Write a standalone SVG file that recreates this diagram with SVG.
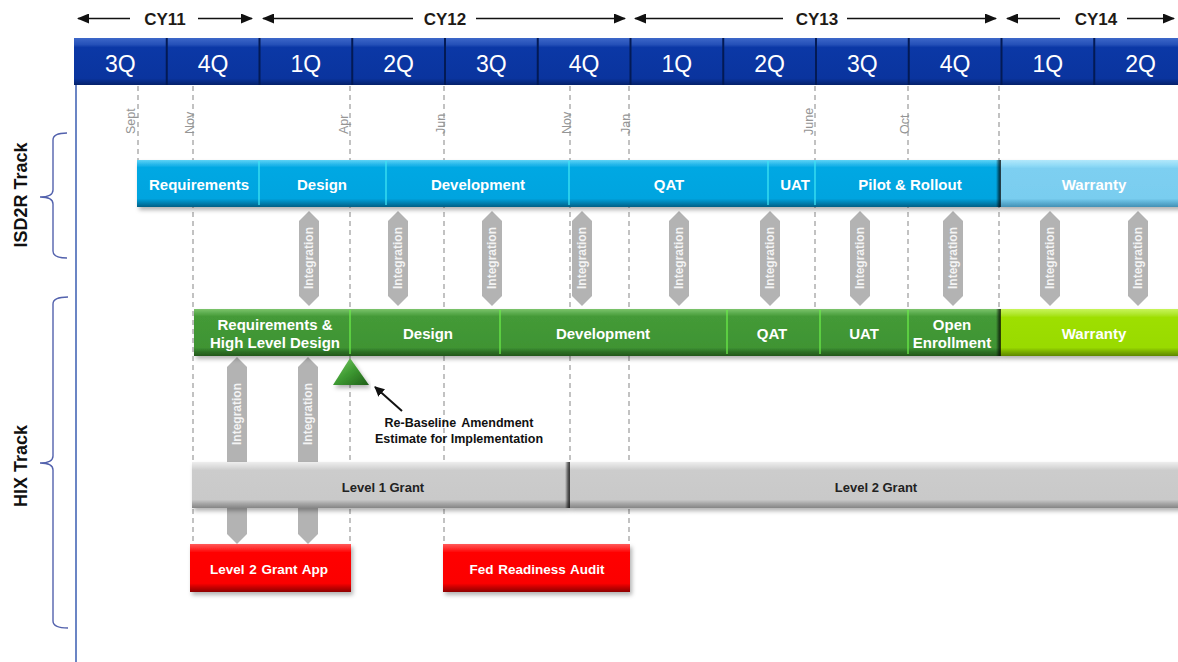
<svg xmlns="http://www.w3.org/2000/svg" width="1178" height="662" viewBox="0 0 1178 662">
<defs>
<linearGradient id="gHdr" x1="0" y1="0" x2="0" y2="1">
<stop offset="0" stop-color="#3d67c9"/><stop offset="0.14" stop-color="#2450b8"/><stop offset="0.2" stop-color="#0b38a6"/><stop offset="0.86" stop-color="#0a349e"/><stop offset="1" stop-color="#05216a"/>
</linearGradient>
<linearGradient id="gBlue" x1="0" y1="0" x2="0" y2="1">
<stop offset="0" stop-color="#5fd3f6"/><stop offset="0.1" stop-color="#22b6ea"/><stop offset="0.16" stop-color="#06a8e3"/><stop offset="0.82" stop-color="#05a4df"/><stop offset="0.9" stop-color="#0486b8"/><stop offset="1" stop-color="#035f85"/>
</linearGradient>
<linearGradient id="gLtBlue" x1="0" y1="0" x2="0" y2="1">
<stop offset="0" stop-color="#b2e8fb"/><stop offset="0.12" stop-color="#8fdaf6"/><stop offset="0.18" stop-color="#7dcff1"/><stop offset="0.82" stop-color="#79cdef"/><stop offset="0.9" stop-color="#5fb2d6"/><stop offset="1" stop-color="#4390b4"/>
</linearGradient>
<linearGradient id="gGreen" x1="0" y1="0" x2="0" y2="1">
<stop offset="0" stop-color="#7cc46c"/><stop offset="0.1" stop-color="#58a94a"/><stop offset="0.16" stop-color="#449a37"/><stop offset="0.82" stop-color="#3f9433"/><stop offset="0.9" stop-color="#2f7426"/><stop offset="1" stop-color="#22561b"/>
</linearGradient>
<linearGradient id="gLime" x1="0" y1="0" x2="0" y2="1">
<stop offset="0" stop-color="#c8f55a"/><stop offset="0.12" stop-color="#ade627"/><stop offset="0.18" stop-color="#9edf05"/><stop offset="0.82" stop-color="#99da00"/><stop offset="0.9" stop-color="#7db300"/><stop offset="1" stop-color="#5d8600"/>
</linearGradient>
<linearGradient id="gGray" x1="0" y1="0" x2="0" y2="1">
<stop offset="0" stop-color="#eeeeee"/><stop offset="0.12" stop-color="#d8d8d8"/><stop offset="0.18" stop-color="#cccccc"/><stop offset="0.82" stop-color="#c9c9c9"/><stop offset="0.9" stop-color="#a8a8a8"/><stop offset="1" stop-color="#858585"/>
</linearGradient>
<linearGradient id="gRed" x1="0" y1="0" x2="0" y2="1">
<stop offset="0" stop-color="#ff5a5a"/><stop offset="0.12" stop-color="#ff2020"/><stop offset="0.18" stop-color="#ff0000"/><stop offset="0.82" stop-color="#fb0000"/><stop offset="0.9" stop-color="#c80000"/><stop offset="1" stop-color="#8e0000"/>
</linearGradient>
<linearGradient id="gTri" x1="0" y1="0" x2="1" y2="1">
<stop offset="0" stop-color="#7fcf6a"/><stop offset="0.5" stop-color="#3e9a32"/><stop offset="1" stop-color="#1f5e19"/>
</linearGradient>
<linearGradient id="gEdge" x1="0" y1="0" x2="1" y2="0">
<stop offset="0" stop-color="#000" stop-opacity="0"/><stop offset="0.6" stop-color="#000" stop-opacity="0.55"/><stop offset="1" stop-color="#000" stop-opacity="0.75"/>
</linearGradient>
<filter id="sh" x="-5%" y="-20%" width="110%" height="150%">
<feDropShadow dx="2" dy="3" stdDeviation="2" flood-color="#000" flood-opacity="0.3"/>
</filter>
<marker id="ah" viewBox="0 0 10 10" refX="9" refY="5" markerWidth="10" markerHeight="10" markerUnits="userSpaceOnUse" orient="auto">
<path d="M0,0 L10,5 L0,10 Z" fill="#111"/>
</marker>
<marker id="yh" viewBox="0 0 12 10" refX="11" refY="5" markerWidth="12" markerHeight="10" markerUnits="userSpaceOnUse" orient="auto-start-reverse">
<path d="M0,0 L12,5 L0,10 Z" fill="#111"/>
</marker>
<style>
text{font-family:"Liberation Sans",Arial,sans-serif}
.q{font-size:23px;fill:#fff;text-anchor:middle}
.cy{font-size:17px;font-weight:bold;fill:#1e1a16;text-anchor:middle}
.yl{stroke:#111;stroke-width:1.6;fill:none}
.mo{font-size:12.5px;fill:#959595}
.grid{stroke:#9a9a9a;stroke-width:1.2;stroke-dasharray:5 4;fill:none}
.bt{font-size:15px;font-weight:bold;fill:#fff;text-anchor:middle}
.div1{stroke:#3fe3f3;stroke-width:1.3}
.div2{stroke:#6bec4a;stroke-width:1.3}
.int{fill:#b3b3b3}
.it{font-size:12px;font-weight:bold;fill:#f4f4f4;text-anchor:middle}
.gt{font-size:13px;font-weight:bold;fill:#222;text-anchor:middle}
.rt{font-size:13.5px;font-weight:bold;fill:#fff;text-anchor:middle}
.tk{font-size:18px;font-weight:bold;fill:#111;text-anchor:middle}
.br{stroke:#5362ad;stroke-width:1.4;fill:none}
.an{font-size:12.5px;font-weight:bold;fill:#111;text-anchor:middle}
</style>
</defs>
<rect width="1178" height="662" fill="#fff"/>

<g id="years">
<line class="yl" x1="130" y1="18.5" x2="78" y2="18.5" marker-end="url(#yh)"/>
<text class="cy" x="165" y="25">CY11</text>
<line class="yl" x1="198" y1="18.5" x2="252" y2="18.5" marker-end="url(#yh)"/>
<line class="yl" x1="413" y1="18.5" x2="263" y2="18.5" marker-end="url(#yh)"/>
<text class="cy" x="445" y="25">CY12</text>
<line class="yl" x1="476" y1="18.5" x2="625" y2="18.5" marker-end="url(#yh)"/>
<line class="yl" x1="783" y1="18.5" x2="635" y2="18.5" marker-end="url(#yh)"/>
<text class="cy" x="817" y="25">CY13</text>
<line class="yl" x1="847" y1="18.5" x2="996" y2="18.5" marker-end="url(#yh)"/>
<line class="yl" x1="1060" y1="18.5" x2="1007" y2="18.5" marker-end="url(#yh)"/>
<text class="cy" x="1096" y="25">CY14</text>
<line class="yl" x1="1127" y1="18.5" x2="1174" y2="18.5" marker-end="url(#yh)"/>
</g>

<g id="quarters">
<rect x="74" y="38" width="1110" height="47" fill="url(#gHdr)"/>
<g stroke="#031a55" stroke-width="2">
<line x1="166.75" y1="38" x2="166.75" y2="85"/><line x1="259.5" y1="38" x2="259.5" y2="85"/><line x1="352.25" y1="38" x2="352.25" y2="85"/><line x1="445" y1="38" x2="445" y2="85"/><line x1="537.75" y1="38" x2="537.75" y2="85"/><line x1="630.5" y1="38" x2="630.5" y2="85"/><line x1="723.25" y1="38" x2="723.25" y2="85"/><line x1="816" y1="38" x2="816" y2="85"/><line x1="908.75" y1="38" x2="908.75" y2="85"/><line x1="1001.5" y1="38" x2="1001.5" y2="85"/><line x1="1094.25" y1="38" x2="1094.25" y2="85"/>
</g>
<text class="q" x="120.4" y="72">3Q</text><text class="q" x="213.1" y="72">4Q</text><text class="q" x="305.9" y="72">1Q</text><text class="q" x="398.6" y="72">2Q</text><text class="q" x="491.4" y="72">3Q</text><text class="q" x="584.1" y="72">4Q</text><text class="q" x="676.9" y="72">1Q</text><text class="q" x="769.6" y="72">2Q</text><text class="q" x="862.4" y="72">3Q</text><text class="q" x="955.1" y="72">4Q</text><text class="q" x="1047.9" y="72">1Q</text><text class="q" x="1140.6" y="72">2Q</text>
</g>

<line id="axis" x1="76" y1="85" x2="76" y2="662" stroke="#3a5cb0" stroke-width="1.5"/>

<g id="gridlines">
<line class="grid" x1="138" y1="86" x2="138" y2="160"/>
<line class="grid" x1="193" y1="86" x2="193" y2="545"/>
<line class="grid" x1="350" y1="86" x2="350" y2="545"/>
<line class="grid" x1="444" y1="86" x2="444" y2="545"/>
<line class="grid" x1="570" y1="86" x2="570" y2="462"/>
<line class="grid" x1="629" y1="86" x2="629" y2="545"/>
<line class="grid" x1="815" y1="86" x2="815" y2="310"/>
<line class="grid" x1="908" y1="86" x2="908" y2="310"/>
<line class="grid" x1="999" y1="86" x2="999" y2="310"/>
<text class="mo" transform="translate(135,134) rotate(-90)">Sept</text>
<text class="mo" transform="translate(194,134) rotate(-90)">Nov</text>
<text class="mo" transform="translate(348,134) rotate(-90)">Apr</text>
<text class="mo" transform="translate(445,134) rotate(-90)">Jun</text>
<text class="mo" transform="translate(571,134) rotate(-90)">Nov</text>
<text class="mo" transform="translate(630,134) rotate(-90)">Jan</text>
<text class="mo" transform="translate(813,135) rotate(-90)">June</text>
<text class="mo" transform="translate(909,134) rotate(-90)">Oct</text>
</g>

<g id="tracks">
<path class="br" d="M67,133 Q53,133 53,140 L53,190 Q53,197 40,197 Q53,197 53,204 L53,251 Q53,258 67,258"/>
<text class="tk" transform="translate(27,195) rotate(-90)">ISD2R Track</text>
<path class="br" d="M68,297 Q53,297 53,304 L53,456 Q53,463 40,463 Q53,463 53,470 L53,621 Q53,628 68,628"/>
<text class="tk" transform="translate(27,466) rotate(-90)">HIX Track</text>
</g>

<g id="connectors">
<g id="int-upper">
<polygon class="int" points="309,211 319,221 319,296 309,306 299,296 299,221"/>
<polygon class="int" points="398,211 408,221 408,296 398,306 388,296 388,221"/>
<polygon class="int" points="492,211 502,221 502,296 492,306 482,296 482,221"/>
<polygon class="int" points="582,211 592,221 592,296 582,306 572,296 572,221"/>
<polygon class="int" points="679,211 689,221 689,296 679,306 669,296 669,221"/>
<polygon class="int" points="770,211 780,221 780,296 770,306 760,296 760,221"/>
<polygon class="int" points="860,211 870,221 870,296 860,306 850,296 850,221"/>
<polygon class="int" points="953,211 963,221 963,296 953,306 943,296 943,221"/>
<polygon class="int" points="1050,211 1060,221 1060,296 1050,306 1040,296 1040,221"/>
<polygon class="int" points="1138,211 1148,221 1148,296 1138,306 1128,296 1128,221"/>
<text class="it" transform="translate(313,258) rotate(-90)">Integration</text>
<text class="it" transform="translate(402,258) rotate(-90)">Integration</text>
<text class="it" transform="translate(496,258) rotate(-90)">Integration</text>
<text class="it" transform="translate(586,258) rotate(-90)">Integration</text>
<text class="it" transform="translate(683,258) rotate(-90)">Integration</text>
<text class="it" transform="translate(774,258) rotate(-90)">Integration</text>
<text class="it" transform="translate(864,258) rotate(-90)">Integration</text>
<text class="it" transform="translate(957,258) rotate(-90)">Integration</text>
<text class="it" transform="translate(1054,258) rotate(-90)">Integration</text>
<text class="it" transform="translate(1142,258) rotate(-90)">Integration</text>
</g>
<g id="int-lower">
<polygon class="int" points="237,357 247,367 247,534 237,544 227,534 227,367"/>
<polygon class="int" points="308,357 318,367 318,534 308,544 298,534 298,367"/>
<text class="it" transform="translate(241,414) rotate(-90)">Integration</text>
<text class="it" transform="translate(312,414) rotate(-90)">Integration</text>
</g>
<line id="annot-arrow" x1="402" y1="411" x2="375" y2="387" stroke="#111" stroke-width="2" marker-end="url(#ah)"/>
</g>

<g id="isd2r-bar">
<rect x="137" y="160" width="863" height="47" fill="url(#gBlue)" filter="url(#sh)"/>
<line class="div1" x1="259" y1="161" x2="259" y2="205"/>
<line class="div1" x1="386" y1="161" x2="386" y2="205"/>
<line class="div1" x1="569" y1="161" x2="569" y2="205"/>
<line class="div1" x1="768" y1="161" x2="768" y2="205"/>
<line class="div1" x1="815" y1="161" x2="815" y2="205"/>
<text class="bt" x="199" y="190">Requirements</text>
<text class="bt" x="322" y="190">Design</text>
<text class="bt" x="478" y="190">Development</text>
<text class="bt" x="669" y="190">QAT</text>
<text class="bt" x="795" y="190">UAT</text>
<text class="bt" x="910" y="190">Pilot &amp; Rollout</text>
</g>
<g id="isd2r-warranty">
<rect x="1000" y="160" width="190" height="47" fill="url(#gLtBlue)" filter="url(#sh)"/>
<rect x="996" y="160" width="5" height="47" fill="url(#gEdge)"/>
<text class="bt" x="1094" y="190">Warranty</text>
</g>

<g id="hix-bar">
<rect x="194" y="309" width="806" height="47" fill="url(#gGreen)" filter="url(#sh)"/>
<line class="div2" x1="350" y1="310" x2="350" y2="354"/>
<line class="div2" x1="500" y1="310" x2="500" y2="354"/>
<line class="div2" x1="727" y1="310" x2="727" y2="354"/>
<line class="div2" x1="820" y1="310" x2="820" y2="354"/>
<line class="div2" x1="908" y1="310" x2="908" y2="354"/>
<text class="bt" x="275" y="330">Requirements &amp;</text>
<text class="bt" x="275" y="348">High Level Design</text>
<text class="bt" x="428" y="339">Design</text>
<text class="bt" x="603" y="339">Development</text>
<text class="bt" x="772" y="339">QAT</text>
<text class="bt" x="864" y="339">UAT</text>
<text class="bt" x="952" y="330">Open</text>
<text class="bt" x="952" y="348">Enrollment</text>
</g>
<g id="hix-warranty">
<rect x="1000" y="309" width="190" height="47" fill="url(#gLime)" filter="url(#sh)"/>
<rect x="996" y="309" width="5" height="47" fill="url(#gEdge)"/>
<text class="bt" x="1094" y="339">Warranty</text>
</g>

<g id="milestone">
<polygon points="350,358 369,385 333,385" fill="url(#gTri)" filter="url(#sh)"/>
<text class="an" x="459" y="427" word-spacing="2">Re-Baseline Amendment</text>
<text class="an" x="459" y="443">Estimate for Implementation</text>
</g>

<g id="level1-grant">
<rect x="192" y="462" width="377" height="46" fill="url(#gGray)" filter="url(#sh)"/>
<text class="gt" x="383" y="492">Level 1 Grant</text>
</g>
<g id="level2-grant">
<rect x="569" y="462" width="620" height="46" fill="url(#gGray)" filter="url(#sh)"/>
<rect x="565" y="462" width="5" height="46" fill="url(#gEdge)"/>
<text class="gt" x="876" y="492">Level 2 Grant</text>
</g>

<g id="level2-grant-app">
<rect x="190" y="544" width="161" height="48" fill="url(#gRed)" filter="url(#sh)"/>
<text class="rt" x="269" y="574" word-spacing="1">Level 2 Grant App</text>
</g>
<g id="fed-readiness-audit">
<rect x="443" y="544" width="187" height="48" fill="url(#gRed)" filter="url(#sh)"/>
<text class="rt" x="537" y="574" word-spacing="1">Fed Readiness Audit</text>
</g>
</svg>
